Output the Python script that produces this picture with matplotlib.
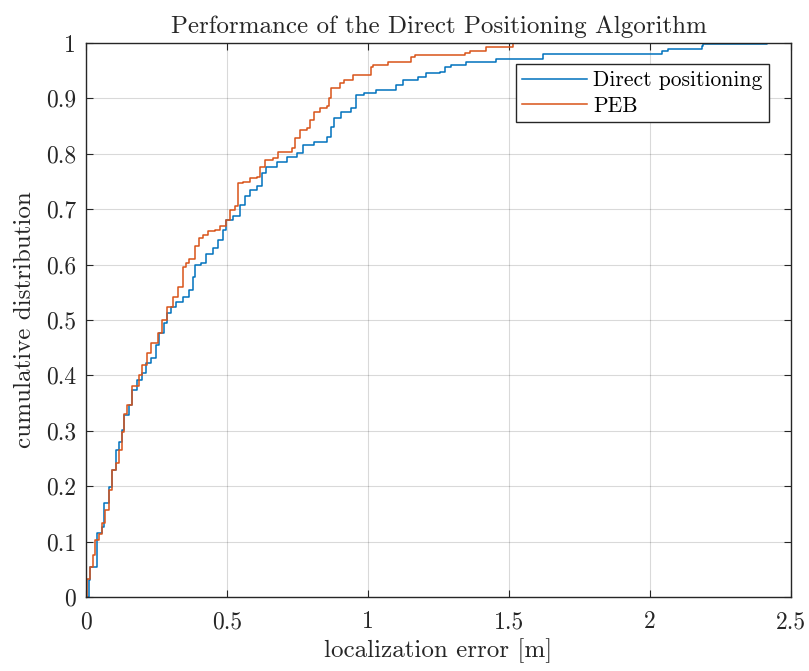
"""ECDF of localization error: direct positioning vs PEB (MATLAB-style figure)."""

import matplotlib

matplotlib.use("Agg")
import matplotlib.pyplot as plt

plt.rcParams["font.family"] = "cmr10"
plt.rcParams["mathtext.fontset"] = "cm"
plt.rcParams["axes.formatter.use_mathtext"] = True

# step breakpoints (x = error [m], y = cumulative fraction)
direct_x = [0.0, 0.01, 0.015, 0.04, 0.057, 0.063, 0.081, 0.093, 0.105, 0.117,
            0.129, 0.135, 0.152, 0.164, 0.182, 0.2, 0.212, 0.23, 0.248, 0.26,
            0.277, 0.289, 0.3, 0.319, 0.343, 0.367, 0.379, 0.385, 0.408, 0.426,
            0.45, 0.468, 0.486, 0.498, 0.521, 0.545, 0.563, 0.581, 0.605, 0.623,
            0.64, 0.676, 0.712, 0.748, 0.771, 0.807, 0.855, 0.867, 0.881, 0.905,
            0.94, 0.958, 0.987, 1.029, 1.1, 1.124, 1.177, 1.207, 1.254, 1.272,
            1.296, 1.349, 1.455, 1.621, 2.041, 2.065, 2.183, 2.189, 2.414]
direct_y = [0.0, 0.03, 0.054, 0.115, 0.127, 0.169, 0.199, 0.229, 0.265, 0.28,
            0.301, 0.328, 0.346, 0.373, 0.392, 0.404, 0.422, 0.431, 0.455, 0.476,
            0.494, 0.512, 0.524, 0.533, 0.542, 0.554, 0.578, 0.599, 0.602, 0.62,
            0.63, 0.645, 0.663, 0.681, 0.687, 0.708, 0.723, 0.735, 0.741, 0.765,
            0.777, 0.786, 0.795, 0.801, 0.816, 0.822, 0.831, 0.849, 0.864, 0.876,
            0.882, 0.906, 0.91, 0.915, 0.924, 0.933, 0.939, 0.945, 0.948, 0.957,
            0.96, 0.966, 0.972, 0.98, 0.986, 0.99, 0.994, 0.998, 1.0]

peb_x = [0.0, 0.004, 0.015, 0.024, 0.033, 0.045, 0.057, 0.069, 0.081, 0.093,
         0.105, 0.117, 0.129, 0.135, 0.146, 0.164, 0.188, 0.2, 0.218, 0.23,
         0.254, 0.271, 0.289, 0.307, 0.325, 0.343, 0.355, 0.367, 0.385, 0.402,
         0.414, 0.432, 0.456, 0.474, 0.498, 0.51, 0.527, 0.539, 0.557, 0.581,
         0.605, 0.617, 0.635, 0.664, 0.682, 0.73, 0.742, 0.76, 0.783, 0.795,
         0.807, 0.831, 0.855, 0.863, 0.869, 0.899, 0.916, 0.946, 1.011, 1.017,
         1.07, 1.153, 1.165, 1.343, 1.36, 1.42, 1.515]
peb_y = [0.0, 0.033, 0.054, 0.075, 0.102, 0.114, 0.133, 0.157, 0.193, 0.229,
         0.241, 0.265, 0.298, 0.331, 0.346, 0.38, 0.401, 0.419, 0.44, 0.458,
         0.476, 0.5, 0.524, 0.542, 0.56, 0.596, 0.602, 0.611, 0.633, 0.648,
         0.654, 0.66, 0.663, 0.669, 0.681, 0.699, 0.705, 0.747, 0.75, 0.756,
         0.759, 0.777, 0.789, 0.792, 0.804, 0.81, 0.828, 0.843, 0.846, 0.861,
         0.876, 0.883, 0.886, 0.9, 0.918, 0.927, 0.933, 0.942, 0.957, 0.96,
         0.966, 0.975, 0.978, 0.982, 0.986, 0.992, 1.0]

x_ticks = [0, 0.5, 1, 1.5, 2, 2.5]
x_tick_labels = ["0", "0.5", "1", "1.5", "2", "2.5"]
y_ticks = [i / 10 for i in range(11)]
y_tick_labels = ["0", "0.1", "0.2", "0.3", "0.4", "0.5", "0.6", "0.7", "0.8", "0.9", "1"]

fig = plt.figure(figsize=(8.09, 6.71), dpi=100)
ax = fig.add_axes([0.1063, 0.1103, 0.8715, 0.8256])

ax.step(direct_x, direct_y, where="post", color="#0072BD", lw=1.1, label="Direct positioning")
ax.step(peb_x, peb_y, where="post", color="#D95319", lw=1.1, label="PEB")

ax.set_xlim(0, 2.5)
ax.set_ylim(0, 1)
ax.set_xticks(x_ticks)
ax.set_xticklabels(x_tick_labels)
ax.set_yticks(y_ticks)
ax.set_yticklabels(y_tick_labels)
ax.tick_params(direction="in", top=True, right=True, labelsize=17, length=5,
               width=0.8, pad=7, colors="#262626", labelcolor="#262626")
ax.tick_params(axis="x", pad=10)
ax.grid(True, color="#000000", alpha=0.15, lw=0.8)
for s in ax.spines.values():
    s.set_color("#262626")
    s.set_linewidth(1.0)

ax.set_xlabel("localization error [m]", fontsize=18, color="#262626", labelpad=4)
ax.set_ylabel("cumulative distribution", fontsize=18, color="#262626", labelpad=7)
ax.set_title("Performance of the Direct Positioning Algorithm", fontsize=18,
             color="#262626", pad=7)

leg = ax.legend(loc="upper right", bbox_to_anchor=(0.969, 0.962), borderaxespad=0,
                fontsize=15.5, fancybox=False, framealpha=1, edgecolor="#262626",
                handlelength=3.0, borderpad=0.3, labelspacing=0.3,
                handletextpad=0.3)
leg.get_frame().set_linewidth(1.0)

fig.savefig("out.png", dpi=100)
